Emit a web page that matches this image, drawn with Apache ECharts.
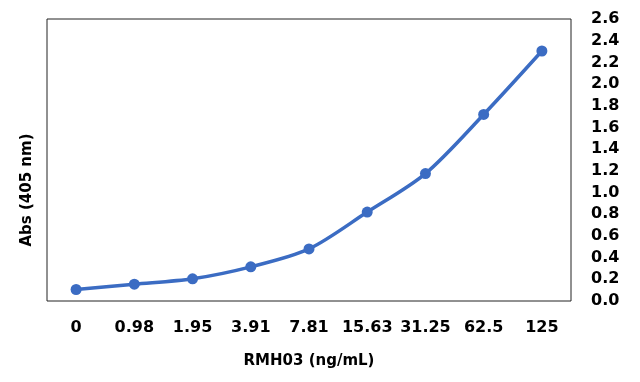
<!DOCTYPE html>
<html>
<head>
<meta charset="utf-8">
<script src="https://cdn.jsdelivr.net/npm/echarts@6/dist/echarts.min.js"></script>
<style>html,body{margin:0;padding:0;background:#fff}#c{width:640px;height:382px}</style>
</head>
<body>
<div id="c"></div>
<script>
var categories = ['0', '0.98', '1.95', '3.91', '7.81', '15.63', '31.25', '62.5', '125'];
var absValues = [0.106, 0.155, 0.205, 0.315, 0.48, 0.82, 1.175, 1.72, 2.305];
var xTitle = 'RMH03 (ng/mL)';
var yTitle = 'Abs (405 nm)';

var FONT = 'DejaVu Sans';
var chart = echarts.init(document.getElementById('c'), null, {renderer: 'canvas'});
chart.setOption({
  animation: false,
  backgroundColor: '#ffffff',
  grid: {left: 47, right: 69, top: 19, bottom: 81, show: true, borderColor: '#222', borderWidth: 1},
  xAxis: {
    type: 'category',
    data: categories,
    boundaryGap: true,
    axisLine: {show: false},
    axisTick: {show: false},
    axisLabel: {interval: 0, margin: 19, fontFamily: FONT, fontWeight: 'bold', fontSize: 16, color: '#000'},
    name: xTitle,
    nameLocation: 'middle',
    nameGap: 53,
    nameTextStyle: {fontFamily: FONT, fontWeight: 'bold', fontSize: 15, color: '#000'}
  },
  yAxis: {
    type: 'value',
    position: 'right',
    min: 0, max: 2.6, interval: 0.2,
    axisLine: {show: false},
    axisTick: {show: false},
    splitLine: {show: false},
    axisLabel: {margin: 20, fontFamily: FONT, fontWeight: 'bold', fontSize: 16, color: '#000',
      formatter: function (v) { return v.toFixed(1); }}
  },
  graphic: [{
    type: 'text',
    rotation: Math.PI / 2,
    x: 27, y: 190,
    style: {text: yTitle, font: 'bold 15px "DejaVu Sans"', fill: '#000', textAlign: 'center', textVerticalAlign: 'middle'}
  }],
  series: [{
    type: 'line',
    data: absValues,
    smooth: 0.3,
    symbol: 'circle',
    symbolSize: 11,
    lineStyle: {color: '#3B6CC3', width: 3.5},
    itemStyle: {color: '#3B6CC3'}
  }]
});
</script>
</body>
</html>
